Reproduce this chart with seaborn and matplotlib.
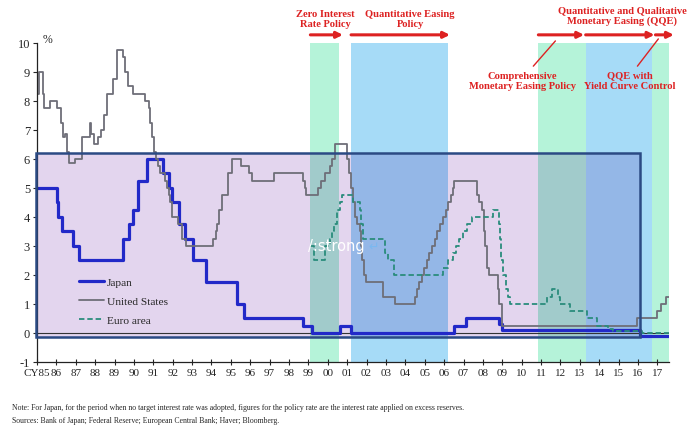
import pandas as pd
import seaborn as sns
import matplotlib.pyplot as plt
from matplotlib.colors import to_rgb
from matplotlib.patches import Rectangle

# policy rate change points (calendar year as decimal, % p.a.)
jp_dates = [1985.0, 1986.03, 1986.1, 1986.3, 1986.84, 1987.17, 1989.42, 1989.75, 1989.97,
            1990.2, 1990.66, 1991.5, 1991.8, 1991.97, 1992.3, 1992.62, 1993.05, 1993.72,
            1995.3, 1995.68, 1998.71, 1999.18, 2000.64, 2001.2, 2006.5, 2007.12, 2008.83,
            2008.97, 2016.1, 2017.6]
jp_rates = [5.0, 4.5, 4.0, 3.5, 3.0, 2.5, 3.25, 3.75, 4.25,
            5.25, 6.0, 5.5, 5.0, 4.5, 3.75, 3.25, 2.5, 1.75,
            1.0, 0.5, 0.25, 0.0, 0.25, 0.0, 0.25, 0.5, 0.3,
            0.1, -0.1, -0.1]

us_dates = [1985.0, 1985.1, 1985.3, 1985.38, 1985.67, 1986.05, 1986.25, 1986.35, 1986.42,
            1986.55, 1986.67, 1986.97, 1987.3, 1987.72, 1987.8, 1987.95, 1988.15, 1988.3,
            1988.45, 1988.6, 1988.93, 1989.12, 1989.45, 1989.55, 1989.7, 1989.95, 1990.55,
            1990.78, 1990.85, 1990.95, 1991.05, 1991.12, 1991.25, 1991.35, 1991.6, 1991.7,
            1991.8, 1991.88, 1991.95, 1992.25, 1992.5, 1992.7, 1994.1, 1994.22, 1994.3,
            1994.38, 1994.55, 1994.85, 1995.08, 1995.5, 1995.95, 1996.1, 1997.23, 1998.73,
            1998.8, 1998.88, 1999.5, 1999.65, 1999.87, 2000.1, 2000.22, 2000.38, 2001.0,
            2001.08, 2001.22, 2001.3, 2001.38, 2001.5, 2001.65, 2001.72, 2001.78, 2001.85,
            2001.95, 2002.86, 2003.48, 2004.5, 2004.62, 2004.72, 2004.87, 2004.95, 2005.1,
            2005.22, 2005.38, 2005.55, 2005.65, 2005.8, 2005.92, 2006.08, 2006.22, 2006.35,
            2006.45, 2006.5, 2007.7, 2007.8, 2007.95, 2008.05, 2008.1, 2008.22, 2008.3,
            2008.78, 2008.85, 2008.96, 2015.96, 2016.96, 2017.2, 2017.45, 2017.6]
us_rates = [8.25, 9.0, 8.25, 7.75, 8.0, 7.75, 7.25, 6.75, 6.875,
            6.25, 5.875, 6.0, 6.75, 7.25, 6.875, 6.5, 6.75, 7.0,
            7.5, 8.25, 8.75, 9.75, 9.5, 9.0, 8.5, 8.25, 8.0,
            7.75, 7.25, 6.75, 6.25, 6.0, 5.75, 5.5, 5.25, 5.0,
            4.75, 4.5, 4.0, 3.75, 3.25, 3.0, 3.25, 3.5, 3.75,
            4.25, 4.75, 5.5, 6.0, 5.75, 5.5, 5.25, 5.5, 5.25,
            5.0, 4.75, 5.0, 5.25, 5.5, 5.75, 6.0, 6.5, 6.0,
            5.5, 5.0, 4.5, 4.0, 3.75, 3.5, 3.0, 2.5, 2.0,
            1.75, 1.25, 1.0, 1.25, 1.5, 1.75, 2.0, 2.25, 2.5,
            2.75, 3.0, 3.25, 3.5, 3.75, 4.0, 4.25, 4.5, 4.75,
            5.0, 5.25, 4.75, 4.5, 4.25, 3.5, 3.0, 2.25, 2.0,
            1.5, 1.0, 0.25, 0.5, 0.75, 1.0, 1.25, 1.25]

eu_dates = [1999.1, 1999.3, 1999.87, 2000.1, 2000.2, 2000.3, 2000.45, 2000.62, 2000.72,
            2001.3, 2001.65, 2001.72, 2001.8, 2002.95, 2003.1, 2003.4, 2005.95, 2006.2,
            2006.45, 2006.6, 2006.78, 2006.95, 2007.2, 2007.45, 2008.53, 2008.85, 2008.9,
            2008.95, 2009.05, 2009.2, 2009.3, 2009.4, 2011.3, 2011.55, 2011.87, 2011.97,
            2012.5, 2013.37, 2013.88, 2014.45, 2014.7, 2016.2, 2017.6]
eu_rates = [3.0, 2.5, 3.0, 3.25, 3.5, 3.75, 4.25, 4.5, 4.75,
            4.5, 4.25, 3.75, 3.25, 2.75, 2.5, 2.0, 2.25, 2.5,
            2.75, 3.0, 3.25, 3.5, 3.75, 4.0, 4.25, 3.75, 3.25,
            2.5, 2.0, 1.5, 1.25, 1.0, 1.25, 1.5, 1.25, 1.0,
            0.75, 0.5, 0.25, 0.15, 0.05, 0.0, 0.0]

years = list(range(1985, 2018))
year_labels = ['CY85'] + [f'{y % 100:02d}' for y in years[1:]]
y_ticks = list(range(-1, 11))

# BOJ policy regimes (shaded)
policy_start = [1999.1, 2001.2, 2010.86, 2013.3, 2016.7]
policy_end = [2000.6, 2006.2, 2013.3, 2016.7, 2017.6]
policy_kind = ['zirp', 'qe', 'zirp', 'qe', 'zirp']
shade = {'zirp': '#b5f3d9', 'qe': '#a6dbf7'}

RED = '#dd2222'
PURPLE = '#e3d5ee'


def multiply(c1, c2):
    a, b = to_rgb(c1), to_rgb(c2)
    return tuple(x * y for x, y in zip(a, b))


sns.set_style("ticks")
plt.rcParams['font.family'] = ['Liberation Serif', 'DejaVu Serif']

fig = plt.figure(figsize=(6.94, 4.31), dpi=100)
ax = fig.add_axes([0.0533, 0.158, 0.9107, 0.74])

ax.set_xlim(1985.0, 2017.6)
ax.set_ylim(-1, 10)

# shaded policy periods
for s, e, k in zip(policy_start, policy_end, policy_kind):
    ax.axvspan(s, e, color=shade[k], lw=0, zorder=0)

# overlay box (screenshot artefact)
box_x0, box_x1, box_y0, box_y1 = 1984.95, 2016.1, -0.14, 6.2
ax.add_patch(Rectangle((box_x0, box_y0), box_x1 - box_x0, box_y1 - box_y0,
                       facecolor=PURPLE, edgecolor='none', zorder=0.5, clip_on=False))
for s, e, k in zip(policy_start, policy_end, policy_kind):
    x0, x1 = max(s, box_x0), min(e, box_x1)
    if x1 > x0:
        ax.fill_between([x0, x1], box_y0, box_y1, color=multiply(shade[k], PURPLE),
                        lw=0, zorder=0.6)

ax.axhline(0, color='#333333', lw=0.8, zorder=1.5)

series = [
    ('Japan', jp_dates, jp_rates, '#2229c8', 2.3, '-'),
    ('United States', us_dates, us_rates, '#6e6e78', 1.3, '-'),
    ('Euro area', eu_dates, eu_rates, '#2a8c7c', 1.3, (0, (3, 1.6))),
]
for name, d, r, c, lw, ls in series:
    df = pd.DataFrame({'date': d, 'rate': r})
    sns.lineplot(data=df, x='date', y='rate', ax=ax, color=c, lw=lw, linestyle=ls,
                 drawstyle='steps-post', estimator=None, sort=False, label=name, zorder=2)

ax.add_patch(Rectangle((box_x0, box_y0), box_x1 - box_x0, box_y1 - box_y0,
                       facecolor='none', edgecolor='#2b4a84', lw=1.8, zorder=3, clip_on=False))

leg = ax.legend(loc='upper left', bbox_to_anchor=(0.066, 0.266), frameon=False,
                fontsize=8.2, handlelength=2.2, handletextpad=0.25, labelspacing=0.8,
                borderaxespad=0, borderpad=0)

ax.set_xlabel('')
ax.set_ylabel('')
ax.set_xticks(years)
ax.set_xticklabels(year_labels, fontsize=8)
ax.set_yticks(y_ticks)
ax.set_yticklabels([str(v) for v in y_ticks], fontsize=9)
ax.tick_params(axis='x', direction='inout', length=5, width=0.8, pad=2)
ax.tick_params(axis='y', direction='out', length=3, width=0.8, pad=2)
for side in ['top', 'right']:
    ax.spines[side].set_visible(False)
for side in ['left', 'bottom']:
    ax.spines[side].set_color('#222222')
    ax.spines[side].set_linewidth(0.9)
ax.text(1985.3, 10.14, '%', fontsize=8.5, va='center', clip_on=False)

# policy labels and arrows
arrow_y = 10.28
arrows = [(1999.1, 2000.78), (2001.2, 2006.3), (2010.86, 2013.22), (2013.3, 2016.85),
          (2016.9, 2017.85)]
for x0, x1 in arrows:
    ax.annotate('', xy=(x1, arrow_y), xytext=(x0, arrow_y), annotation_clip=False,
                arrowprops=dict(arrowstyle='-|>', color=RED, lw=2.2, mutation_scale=9,
                                shrinkA=0, shrinkB=0))

lab_kw = dict(color=RED, fontsize=7.6, fontweight='bold', ha='center', va='center',
              linespacing=1.15, clip_on=False)
ax.text(1999.86, 10.86, 'Zero Interest\nRate Policy', **lab_kw)
ax.text(2004.25, 10.86, 'Quantitative Easing\nPolicy', **lab_kw)
ax.text(2015.2, 10.95, 'Quantitative and Qualitative\nMonetary Easing (QQE)', **lab_kw)
ax.text(2010.03, 8.72, 'Comprehensive\nMonetary Easing Policy', **lab_kw)
ax.text(2015.6, 8.72, 'QQE with\nYield Curve Control', **lab_kw)
ax.plot([2010.6, 2011.74], [9.2, 10.07], color=RED, lw=1.0, clip_on=False, zorder=4)
ax.plot([2015.97, 2017.05], [9.2, 10.14], color=RED, lw=1.0, clip_on=False, zorder=4)

# stray markup text from the source page
ax.text(1998.99, 3.0, '/:strong', color='white', fontsize=10.5, va='center',
        family='DejaVu Sans', zorder=4)
ax.annotate('\u21b5', xy=(1998.99, 3.0), xytext=(60, 0), textcoords='offset pixels',
            color='#7ab8f0', fontsize=9, va='center', family='DejaVu Sans', zorder=4)

fig.text(0.017, 1 - 408 / 431,
         'Note: For Japan, for the period when no target interest rate was adopted, '
         'figures for the policy rate are the interest rate applied on excess reserves.',
         fontsize=5.6, va='center')
fig.text(0.017, 1 - 421 / 431,
         'Sources: Bank of Japan; Federal Reserve; European Central Bank; Haver; Bloomberg.',
         fontsize=5.6, va='center')

fig.savefig('out.png', dpi=100)
